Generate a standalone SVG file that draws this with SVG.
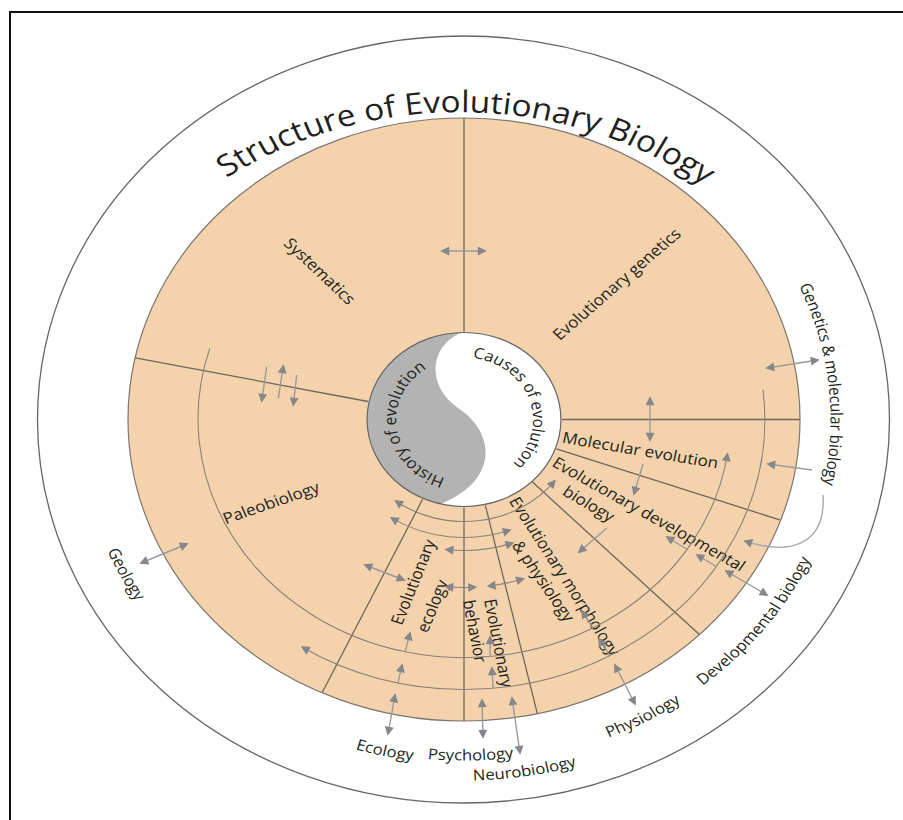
<svg xmlns="http://www.w3.org/2000/svg" width="903" height="820" viewBox="0 0 903 820">
<defs>
<style>
.lbl{font-family:"Open Sans","Noto Sans","DejaVu Sans",sans-serif;fill:#231f20;}
.sec{font-size:15.4px;}
.out{font-size:15px;}
.inn{font-size:15.2px;}
.sl{stroke:#6e655c;stroke-width:1.3;fill:none;vector-effect:non-scaling-stroke;}
.arc{stroke:#8a8179;stroke-width:1.1;fill:none;}
.ar{stroke:#9a9a9a;stroke-width:1.4;fill:none;}
.cv{stroke:#aaaaaa;stroke-width:1.4;fill:none;}
</style>
<marker id="ah" viewBox="0 0 10 10" refX="8" refY="5" markerWidth="10" markerHeight="9" markerUnits="userSpaceOnUse" orient="auto-start-reverse">
<path d="M0,0L10,5L0,10z" fill="#85878a"/>
</marker>
<path id="pTitle" d="M-213.2,-241.5 A366,366 0 0 1 251.2,-203.9"/>
<path id="pHist" d="M-16.8,58.6 A61,61 0 0 1 -20.9,-57.3"/>
<path id="pCause" d="M7.6,-61.5 A62,62 0 0 1 31,53.7"/>
<path id="pGen" d="M300.6,-133.8 A329,329 0 0 1 309.2,112.5"/>
<path id="pDev" d="M214,266.1 A341.5,341.5 0 0 0 336.3,59.3"/>
<path id="pPhys" d="M129.8,318 A343.5,343.5 0 0 0 242.9,242.9"/>
<path id="pNeuro" d="M8.2,360.9 A361,361 0 0 0 152.6,327.2"/>
<path id="pPsy" d="M-32.7,339.4 A341,341 0 0 0 116.6,320.4"/>
<path id="pEco" d="M-97.7,329.8 A344,344 0 0 0 59.7,338.8"/>
<path id="pGeo" d="M-320.1,131.3 A346,346 0 0 0 -222.4,265.1"/>
</defs>

<rect x="0" y="0" width="903" height="820" fill="#ffffff"/>
<rect x="10" y="12" width="905" height="820" fill="none" stroke="#111" stroke-width="2"/>

<g id="outer-ring">
<ellipse cx="463.5" cy="419.5" rx="426" ry="383.5" fill="#ffffff" stroke="#666" stroke-width="1.3"/>
</g>
<g id="disk">
<ellipse cx="464" cy="419.5" rx="336" ry="301.5" fill="#F4D3AC" stroke="#7d7670" stroke-width="1.2"/>
</g>

<g transform="translate(464,419.5) scale(1.114,1)">
<g id="sector-lines">
<line class="sl" x1="0" y1="-88" x2="0" y2="-301.5"/>
<line class="sl" x1="-86.1" y1="-18" x2="-295.1" y2="-61.7"/>
<line class="sl" x1="88" y1="0" x2="301.5" y2="0"/>
<line class="sl" x1="82.9" y1="29.4" x2="284.2" y2="100.6"/>
<line class="sl" x1="61.7" y1="62.8" x2="211.3" y2="215.1"/>
<line class="sl" x1="19.2" y1="85.9" x2="65.8" y2="294.2"/>
<line class="sl" x1="0" y1="88" x2="0" y2="301.5"/>
<line class="sl" x1="-37.2" y1="79.8" x2="-127.4" y2="273.3"/>
</g>

<g id="core">
<circle cx="0" cy="0" r="87" fill="#b3b3b3"/>
<path d="M-1.8,-87 C-30.5,-74.5 -35,-34.5 -5.4,-11.5 C27.8,12.5 32.3,60.5 -21.2,84.4 A87,87 0 1 0 -1.8,-87 Z" fill="#ffffff"/>
<circle cx="0" cy="0" r="87" fill="none" stroke="#666" stroke-width="1.2" vector-effect="non-scaling-stroke"/>
</g>
<g id="history-of-evolution"><text class="lbl inn"><textPath href="#pHist">History of evolution</textPath></text></g>
<g id="causes-of-evolution"><text class="lbl inn"><textPath href="#pCause">Causes of evolution</textPath></text></g>

<g id="title"><text class="lbl" font-size="30"><textPath href="#pTitle">Structure of Evolutionary Biology</textPath></text></g>

<g id="systematics"><text class="lbl sec" text-anchor="middle" dominant-baseline="central" transform="translate(-129.3,-148.5) rotate(46.3)">Systematics</text></g>
<g id="evolutionary-genetics"><text class="lbl sec" text-anchor="middle" dominant-baseline="central" transform="translate(136.9,-135.5) rotate(-44)">Evolutionary genetics</text></g>
<g id="paleobiology"><text class="lbl sec" text-anchor="middle" dominant-baseline="central" transform="translate(-173.2,83) rotate(-21)">Paleobiology</text></g>
<g id="molecular-evolution"><text class="lbl sec" text-anchor="middle" dominant-baseline="central" transform="translate(158.4,30.5) rotate(10.5)">Molecular evolution</text></g>
<g id="evo-devo">
<text class="lbl sec" text-anchor="middle" dominant-baseline="central" transform="translate(166.1,94.5) rotate(32)">Evolutionary developmental</text>
<text class="lbl sec" text-anchor="middle" dominant-baseline="central" transform="translate(112.2,84) rotate(33)">biology</text>
</g>
<g id="evo-morphology">
<text class="lbl sec" text-anchor="middle" dominant-baseline="central" transform="translate(90.5,156.5) rotate(59.7)">Evolutionary morphology</text>
<text class="lbl sec" text-anchor="middle" dominant-baseline="central" transform="translate(71.5,161.5) rotate(58)">&amp; physiology</text>
</g>
<g id="evo-behavior">
<text class="lbl sec" text-anchor="middle" dominant-baseline="central" transform="translate(31.4,223.5) rotate(80)">Evolutionary</text>
<text class="lbl sec" text-anchor="middle" dominant-baseline="central" transform="translate(9.9,211.5) rotate(80)">behavior</text>
</g>
<g id="evo-ecology">
<text class="lbl sec" text-anchor="middle" dominant-baseline="central" transform="translate(-45.8,162.5) rotate(-70)">Evolutionary</text>
<text class="lbl sec" text-anchor="middle" dominant-baseline="central" transform="translate(-28.7,186.5) rotate(-70)">ecology</text>
</g>

<g id="genetics-molecular-biology"><text class="lbl out"><textPath href="#pGen">Genetics &amp; molecular biology</textPath></text></g>
<g id="developmental-biology"><text class="lbl out"><textPath href="#pDev">Developmental biology</textPath></text></g>
<g id="physiology"><text class="lbl out"><textPath href="#pPhys">Physiology</textPath></text></g>
<g id="neurobiology"><text class="lbl out"><textPath href="#pNeuro">Neurobiology</textPath></text></g>
<g id="psychology"><text class="lbl out"><textPath href="#pPsy">Psychology</textPath></text></g>
<g id="ecology"><text class="lbl out"><textPath href="#pEco">Ecology</textPath></text></g>
<g id="geology"><text class="lbl out"><textPath href="#pGeo">Geology</textPath></text></g>
</g>

<g id="connectors">
<path class="arc" d="M209.8,348.4 A266.2,239 0 1 0 727.5,454" marker-end="url(#ah)"/>
<path class="arc" d="M763,389.9 A300.8,270 0 0 1 302.4,647.2" marker-end="url(#ah)"/>
<path class="arc" d="M395.6,501 A113.6,102 0 0 0 554.7,480.9" marker-start="url(#ah)" marker-end="url(#ah)"/>
<path class="arc" d="M391.4,517.9 A131.5,118 0 0 0 510,530" marker-start="url(#ah)" marker-end="url(#ah)"/>
<path class="arc" d="M446.2,549.5 A145.9,131 0 0 0 512.7,543" marker-start="url(#ah)" marker-end="url(#ah)"/>
<path class="arc" d="M446.1,586.7 A187.2,168 0 0 0 475.4,587.2" marker-start="url(#ah)" marker-end="url(#ah)"/>
<path class="arc" d="M488.4,586.1 A187.2,168 0 0 0 523.4,578.8" marker-start="url(#ah)" marker-end="url(#ah)"/>

<path class="ar" d="M442,251 L485,251" marker-start="url(#ah)" marker-end="url(#ah)"/>
<path class="ar" d="M266.7,366.7 L261.7,401" marker-end="url(#ah)"/>
<path class="ar" d="M278.3,398.3 L283.3,366" marker-end="url(#ah)"/>
<path class="ar" d="M296.7,375 L293.3,405" marker-end="url(#ah)"/>
<path class="ar" d="M141,563 L187,544" marker-start="url(#ah)" marker-end="url(#ah)"/>
<path class="ar" d="M767,368 L818,360" marker-start="url(#ah)" marker-end="url(#ah)"/>
<path class="ar" d="M812,470 L768,464" marker-end="url(#ah)"/>
<path class="cv" d="M823,495 C826,545 790,556 745,541" marker-end="url(#ah)"/>
<path class="ar" d="M726,571 L767,595" marker-start="url(#ah)" marker-end="url(#ah)"/>
<path class="ar" d="M688,550 L667,537" marker-end="url(#ah)"/>
<path class="ar" d="M717,567 L697,555" marker-end="url(#ah)"/>
<path class="ar" d="M650,398 L650,440" marker-start="url(#ah)" marker-end="url(#ah)"/>
<path class="ar" d="M643,464 L634,494" marker-end="url(#ah)"/>
<path class="ar" d="M607,528 L579,552" marker-end="url(#ah)"/>
<path class="ar" d="M365,565 L404,580" marker-start="url(#ah)" marker-end="url(#ah)"/>
<path class="ar" d="M395,695 L388,734" marker-start="url(#ah)" marker-end="url(#ah)"/>
<path class="ar" d="M398,683 L402,665" marker-end="url(#ah)"/>
<path class="ar" d="M405,652 L410,633" marker-end="url(#ah)"/>
<path class="ar" d="M493,688 L492,668" marker-end="url(#ah)"/>
<path class="ar" d="M490,657 L490,637" marker-end="url(#ah)"/>
<path class="ar" d="M482,700 L483,737" marker-start="url(#ah)" marker-end="url(#ah)"/>
<path class="ar" d="M512,698 L520,753" marker-start="url(#ah)" marker-end="url(#ah)"/>
<path class="ar" d="M593,628 L582,611" marker-end="url(#ah)"/>
<path class="ar" d="M610,656 L599,639" marker-end="url(#ah)"/>
<path class="ar" d="M615,665 L635,704" marker-start="url(#ah)" marker-end="url(#ah)"/>
</g>
</svg>
